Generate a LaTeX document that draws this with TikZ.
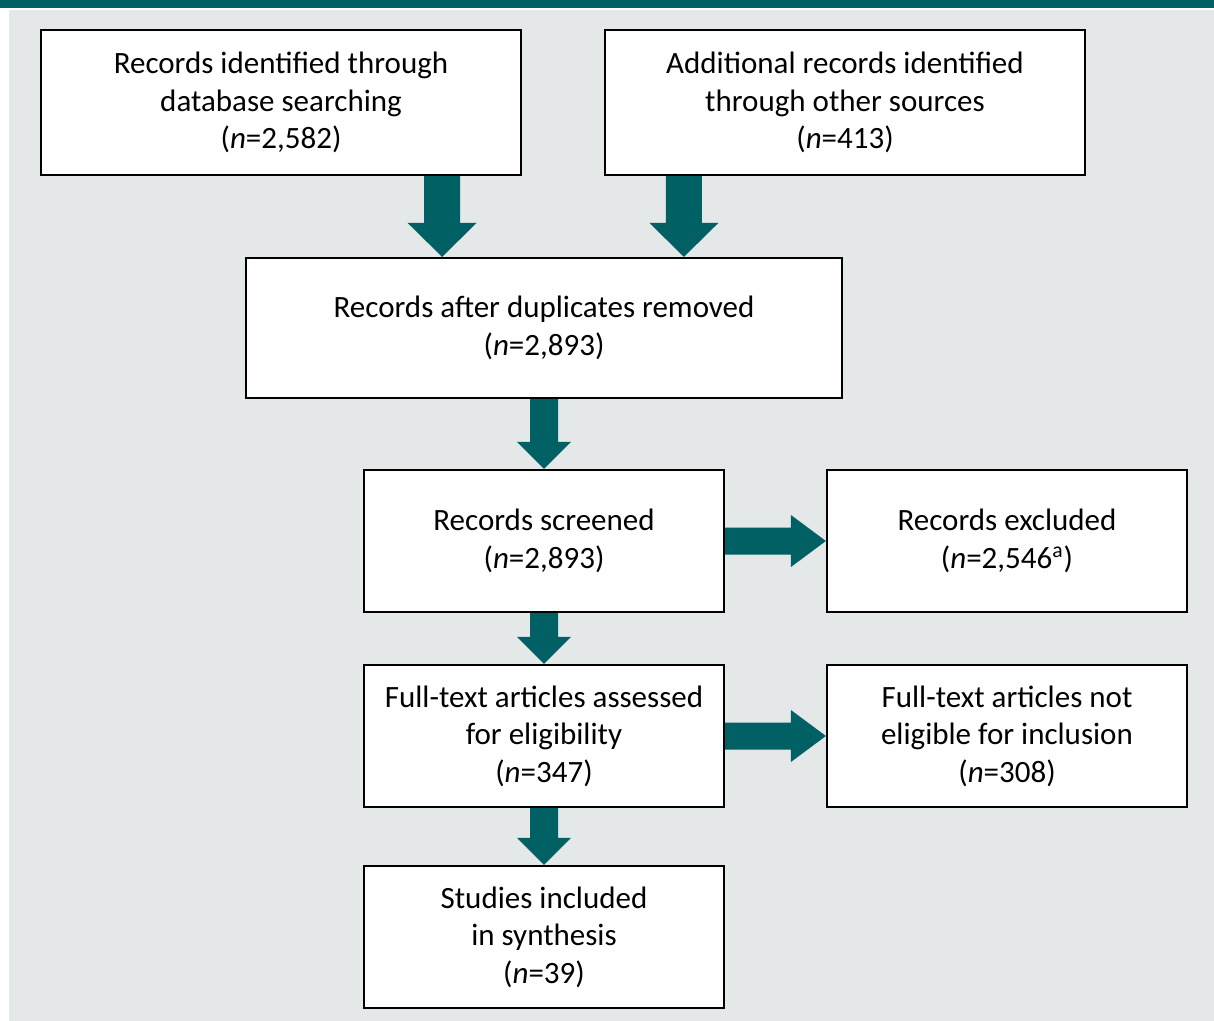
\documentclass[tikz,border=0pt]{standalone}
\usepackage{fontspec}
\setmainfont{Carlito}
\usepackage{xcolor}
\usepackage{tikz}
\usetikzlibrary{calc}
\definecolor{prismateal}{RGB}{0,96,100}
\definecolor{panelgray}{RGB}{228,232,233}
\tikzset{
  flowbox/.style={draw=black,line width=1.1pt,fill=white,align=center,inner sep=2pt,
    font=\fontsize{15.5}{18.8}\selectfont},
  widebox/.style={flowbox,minimum width=240pt,minimum height=72.5pt},
  midbox/.style={flowbox,minimum width=180pt,minimum height=71pt},
  flowfill/.style={fill=prismateal}
}
% block arrows: start, end, shaft half width, head half width, head length
\newcommand{\downblock}[5]{%
  \fill[flowfill] let \p1=(#1), \p2=(#2) in
    (\x1-#3,\y1) -- (\x1-#3,\y2+#5) -- (\x1-#4,\y2+#5) -- (\x1,\y2)
    -- (\x1+#4,\y2+#5) -- (\x1+#3,\y2+#5) -- (\x1+#3,\y1) -- cycle;}
\newcommand{\rightblock}[5]{%
  \fill[flowfill] let \p1=(#1), \p2=(#2) in
    (\x1,\y1+#3) -- (\x2-#5,\y1+#3) -- (\x2-#5,\y1+#4) -- (\x2,\y1)
    -- (\x2-#5,\y1-#4) -- (\x2-#5,\y1-#3) -- (\x1,\y1-#3) -- cycle;}
\begin{document}
\begin{tikzpicture}[x=0.5pt,y=-0.5pt]
  % panel
  \fill[white] (0,0) rectangle (1214,1021);
  \fill[panelgray] (9,10) rectangle (1214,1021);
  \fill[prismateal] (0,0) rectangle (1214,8);
  \useasboundingbox (0,0) rectangle (1214,1021);

  \node[widebox] (dbsearch) at (281,102.5) {Records identified through\\database searching\\(\textit{n}=2,582)};
  \node[widebox] (othersrc) at (845,102.5) {Additional records identified\\through other sources\\(\textit{n}=413)};
  \node[flowbox,minimum width=298pt,minimum height=70pt] (dedup) at (544,328) {Records after duplicates removed\\(\textit{n}=2,893)};
  \node[midbox] (screened) at (544,541) {Records screened\\(\textit{n}=2,893)};
  \node[midbox] (excluded) at (1007,541) {Records excluded\\(\textit{n}=2,546\textsuperscript{a})};
  \node[midbox] (fulltext) at (544,736) {Full-text articles assessed\\for eligibility\\(\textit{n}=347)};
  \node[midbox] (noteligible) at (1007,736) {Full-text articles not\\eligible for inclusion\\(\textit{n}=308)};
  \node[midbox] (included) at (544,937) {Studies included\\in synthesis\\(\textit{n}=39)};

  \coordinate (dbout) at ([xshift=-40pt]dbsearch.south east);
  \coordinate (otherout) at ([xshift=40pt]othersrc.south west);
  \downblock{dbout}{dbout |- dedup.north}{9pt}{17.25pt}{17pt}
  \downblock{otherout}{otherout |- dedup.north}{9pt}{17.25pt}{17pt}
  \downblock{dedup.south}{screened.north}{7pt}{13.5pt}{13.5pt}
  \downblock{screened.south}{fulltext.north}{7pt}{13.5pt}{13.5pt}
  \downblock{fulltext.south}{included.north}{7pt}{13.5pt}{13.5pt}
  \rightblock{screened.east}{excluded.west}{6.75pt}{13pt}{17.5pt}
  \rightblock{fulltext.east}{noteligible.west}{6.75pt}{13pt}{17.5pt}
\end{tikzpicture}
\end{document}
